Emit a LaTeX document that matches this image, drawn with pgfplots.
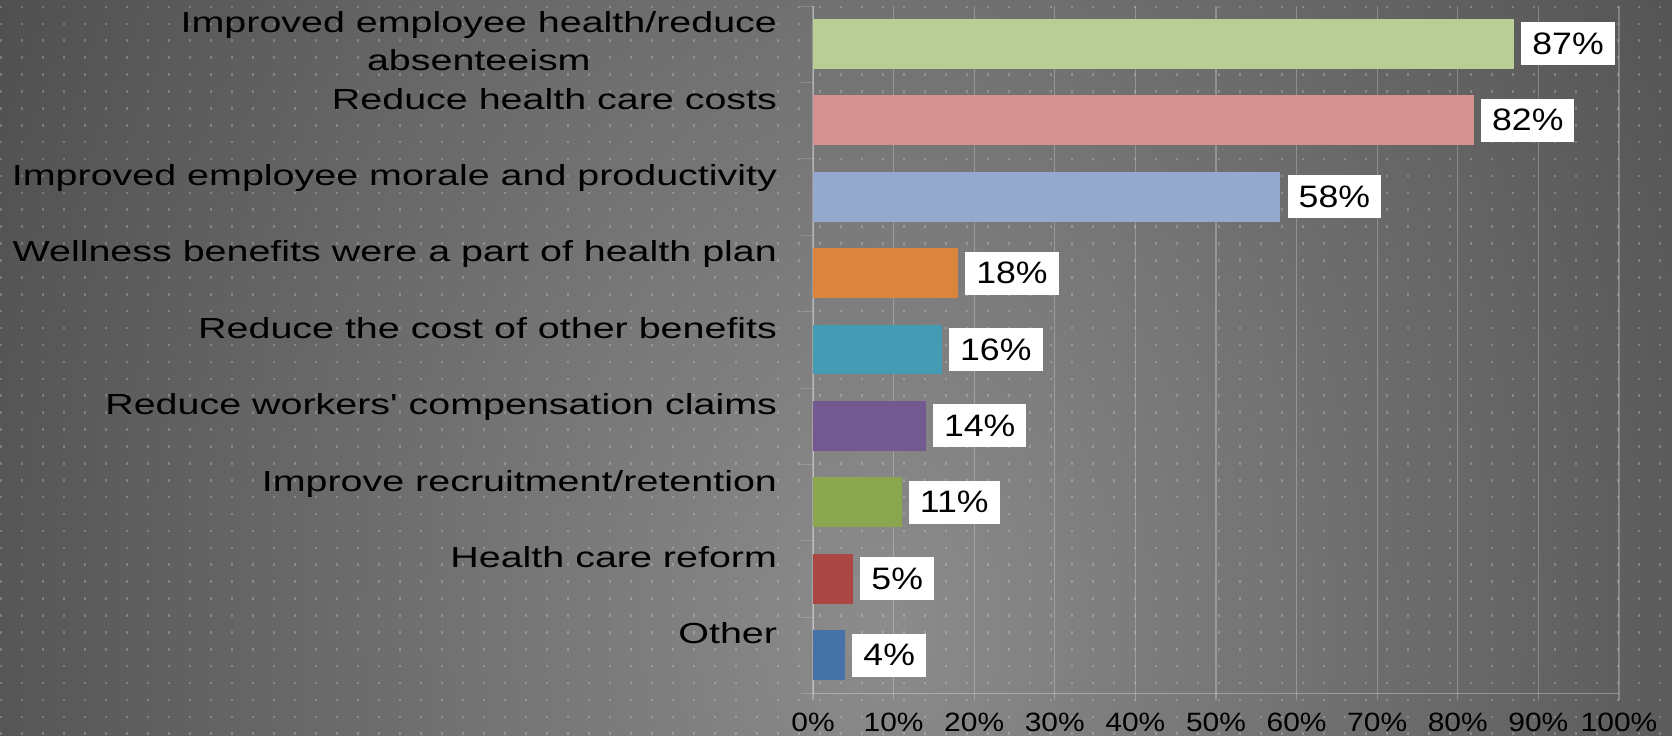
\documentclass[border=0pt]{standalone}
\usepackage{fontspec}
\setmainfont{Liberation Sans}
\usepackage{graphicx}
\usepackage{pgfplots}
\pgfplotsset{compat=1.18}
\usetikzlibrary{patterns}

% bar colours, top to bottom
\definecolor{cA}{HTML}{B9CD96}
\definecolor{cB}{HTML}{D39190}
\definecolor{cC}{HTML}{95A9CF}
\definecolor{cD}{HTML}{DB843D}
\definecolor{cE}{HTML}{439CB3}
\definecolor{cF}{HTML}{725990}
\definecolor{cG}{HTML}{8AA64E}
\definecolor{cH}{HTML}{AA4643}
\definecolor{cI}{HTML}{4572A7}
\definecolor{bgin}{HTML}{8C8C8C}
\definecolor{bgout}{HTML}{4A4A4A}

\pgfdeclarepatternformonly{bgdots}{\pgfpointorigin}{\pgfpoint{1pt}{1.4pt}}{\pgfpoint{10.5pt}{8.45pt}}{%
  \pgfpathrectangle{\pgfpointorigin}{\pgfpoint{0.9pt}{1.3pt}}\pgfusepath{fill}}

\newcommand\lab[1]{\scalebox{1.36}[1]{\begin{tabular}{@{}r@{}}#1\\\mbox{}\end{tabular}}}

\begin{document}
\begin{tikzpicture}
\path[use as bounding box] (0,0) rectangle (836pt,367.5pt);
\begin{scope}
  \clip (0,0) rectangle (836pt,367.5pt);
  \shade[inner color=bgin, outer color=bgout] (440pt,57.5pt) ellipse [x radius=540pt, y radius=750pt];
  \fill[pattern=bgdots, pattern color=white, fill opacity=0.22] (0,0) rectangle (836pt,367.5pt);
\end{scope}

\begin{axis}[
    at={(406.5pt,20.85pt)}, anchor=south west,
    scale only axis, width=403pt, height=343.8pt,
    xbar, bar shift=0pt, bar width=0.65,
    xmin=0, xmax=100, ymin=-0.5, ymax=8.5,
    /pgf/number format/assume math mode=true,
    xtick={0,10,...,100},
    xticklabel={\scalebox{1.13}[1]{\pgfmathprintnumber{\tick}\%}},
    xticklabel style={font=\fontsize{13.25}{16}\selectfont, inner sep=0pt, anchor=north, yshift=-6.3pt},
    ytick={0,...,8},
    yticklabels={
      {\lab{Other}},
      {\lab{Health care reform}},
      {\lab{Improve recruitment/retention}},
      {\lab{Reduce workers\textquotesingle{} compensation claims}},
      {\lab{Reduce the cost of other benefits}},
      {\lab{Wellness benefits were a part of health plan}},
      {\lab{Improved employee morale and productivity}},
      {\lab{Reduce health care costs}},
      {\scalebox{1.36}[1]{\begin{tabular}{@{}c@{}}Improved employee health/reduce\\absenteeism\end{tabular}}}
    },
    yticklabel style={font=\fontsize{14.5}{18.7}\selectfont, anchor=east, inner sep=0pt, xshift=-14.3pt},
    axis x line*=bottom, axis y line*=left,
    axis line style={-, draw=white, draw opacity=0.3},
    xmajorgrids, grid style={white, opacity=0.25, line width=0.6pt},
    tick align=outside, major tick length=3.5pt,
    xtick style={draw=white, draw opacity=0.25, line width=0.6pt},
    ytick style={draw=none},
    extra y ticks={-0.5,0.5,...,8.5}, extra y tick labels={},
    extra y tick style={ytick style={draw=white, draw opacity=0.18}, major tick length=6pt},
    point meta=x,
    nodes near coords={\scalebox{1.15}[1]{\pgfmathprintnumber{\pgfplotspointmeta}\%}},
    every node near coord/.append style={fill=white, text=black, anchor=west,
      font=\fontsize{15.5}{18}\selectfont, inner xsep=5.5pt, inner ysep=0pt,
      minimum height=21.5pt, xshift=3.4pt},
]
\addplot[fill=cI, draw=none] coordinates {(4,0)};
\addplot[fill=cH, draw=none] coordinates {(5,1)};
\addplot[fill=cG, draw=none] coordinates {(11,2)};
\addplot[fill=cF, draw=none] coordinates {(14,3)};
\addplot[fill=cE, draw=none] coordinates {(16,4)};
\addplot[fill=cD, draw=none] coordinates {(18,5)};
\addplot[fill=cC, draw=none] coordinates {(58,6)};
\addplot[fill=cB, draw=none] coordinates {(82,7)};
\addplot[fill=cA, draw=none] coordinates {(87,8)};
\end{axis}
\end{tikzpicture}
\end{document}
